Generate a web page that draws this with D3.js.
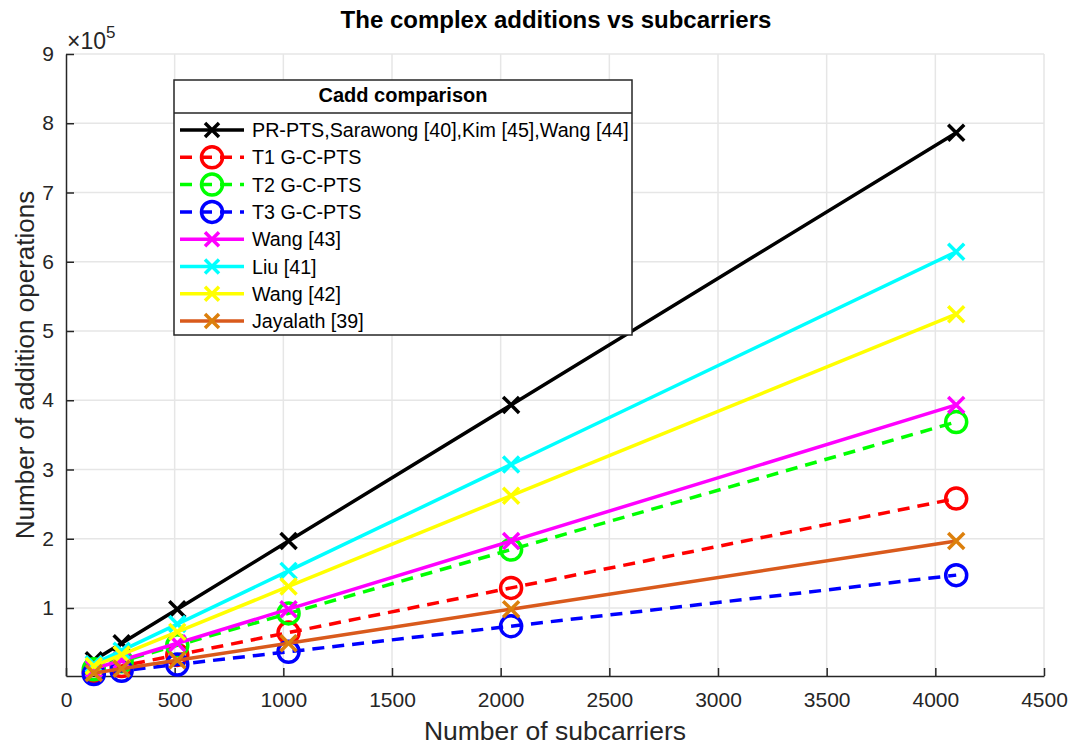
<!DOCTYPE html>
<html>
<head>
<meta charset="utf-8">
<script src="https://cdn.jsdelivr.net/npm/d3@7"></script>
<style>
  body { margin: 0; background: #fff; }
  svg { font-family: "Liberation Sans", Arial, sans-serif; }
</style>
</head>
<body>
<div id="chart"></div>
<script>
const subcarriers = [128, 256, 512, 1024, 2048, 4096];
const seriesNames = ['PR-PTS,Sarawong [40],Kim [45],Wang [44]', 'T1 G-C-PTS', 'T2 G-C-PTS', 'T3 G-C-PTS',
  'Wang [43]', 'Liu [41]', 'Wang [42]', 'Jayalath [39]'];
const prPts = [24576, 49152, 98304, 196608, 393216, 786432];
const t1 = [8064, 16128, 32256, 64512, 129024, 258048];
const t2 = [11520, 23040, 46080, 92160, 184320, 368640];
const t3 = [4608, 9216, 18432, 36864, 73728, 147456];
const wang43 = [12288, 24576, 49152, 98304, 196608, 393216];
const liu41 = [19200, 38400, 76800, 153600, 307200, 614400];
const wang42 = [16384, 32768, 65536, 131072, 262144, 524288];
const jayalath = [6144, 12288, 24576, 49152, 98304, 196608];
const xTicks = [0, 500, 1000, 1500, 2000, 2500, 3000, 3500, 4000, 4500];
const yTicks = [1, 2, 3, 4, 5, 6, 7, 8, 9];

const series = [
  { name: seriesNames[0], values: prPts, color: '#000000', marker: 'x', dash: null },
  { name: seriesNames[1], values: t1, color: '#ff0000', marker: 'o', dash: '12,8' },
  { name: seriesNames[2], values: t2, color: '#00ff00', marker: 'o', dash: '12,8' },
  { name: seriesNames[3], values: t3, color: '#0000ff', marker: 'o', dash: '12,8' },
  { name: seriesNames[4], values: wang43, color: '#ff00ff', marker: 'x', dash: null },
  { name: seriesNames[5], values: liu41, color: '#00ffff', marker: 'x', dash: null },
  { name: seriesNames[6], values: wang42, color: '#ffff00', marker: 'x', dash: null },
  { name: seriesNames[7], values: jayalath, color: '#d95a1c', markerColor: '#dc7f0c', marker: 'x', dash: null },
];

const W = 1070, H = 746;
const margin = { top: 54, right: 26, bottom: 70, left: 66 };

const svg = d3.select('#chart').append('svg')
  .attr('width', W)
  .attr('height', H);

const x = d3.scaleLinear().domain([0, 4500]).range([margin.left, W - margin.right]);
const y = d3.scaleLinear().domain([1800, 900000]).range([H - margin.bottom, margin.top]);

// grid
svg.append('g').selectAll('line')
  .data(xTicks.slice(1))
  .join('line')
  .attr('x1', d => x(d)).attr('x2', d => x(d))
  .attr('y1', y.range()[0]).attr('y2', y.range()[1])
  .attr('stroke', '#e6e6e6').attr('stroke-width', 1.5);
svg.append('g').selectAll('line')
  .data(yTicks)
  .join('line')
  .attr('x1', x.range()[0]).attr('x2', x.range()[1])
  .attr('y1', d => y(d * 1e5)).attr('y2', d => y(d * 1e5))
  .attr('stroke', '#e6e6e6').attr('stroke-width', 1.5);

// axes
const xAxis = svg.append('g')
  .attr('transform', `translate(0,${y.range()[0]})`)
  .call(d3.axisBottom(x).tickValues(xTicks).tickFormat(d3.format('d'))
    .tickSizeInner(-8).tickSizeOuter(0).tickPadding(16));
const yAxis = svg.append('g')
  .attr('transform', `translate(${x.range()[0]},0)`)
  .call(d3.axisLeft(y).tickValues(yTicks.map(d => d * 1e5)).tickFormat(d => d / 1e5)
    .tickSizeInner(-8).tickSizeOuter(0).tickPadding(12));
[xAxis, yAxis].forEach(g => {
  g.attr('font-size', null).attr('font-family', null);
  g.select('.domain').attr('stroke', '#262626').attr('stroke-width', 1.5);
  g.selectAll('.tick line').attr('stroke', '#262626').attr('stroke-width', 1.5);
  g.selectAll('.tick text').attr('fill', '#262626').style('font-size', '21px');
});

svg.append('text')
  .attr('x', 67).attr('y', 49)
  .attr('fill', '#262626').style('font-size', '23px')
  .html('×10<tspan dy="-11" font-size="17px">5</tspan>');

// lines
const line = d3.line().x((d, i) => x(subcarriers[i])).y(d => y(d));
const gSeries = svg.append('g');
series.forEach(s => {
  gSeries.append('path')
    .datum(s.values)
    .attr('d', line)
    .attr('fill', 'none')
    .attr('stroke', s.color)
    .attr('stroke-width', 3.5)
    .attr('stroke-dasharray', s.dash);
  drawMarkers(gSeries, s, s.values.map((v, i) => [x(subcarriers[i]), y(v)]), 8);
});

function drawMarkers(g, s, pts, r) {
  const c = s.markerColor || s.color;
  const m = g.append('g').selectAll('g').data(pts).join('g')
    .attr('transform', d => `translate(${d[0]},${d[1]})`);
  if (s.marker === 'o') {
    m.append('circle').attr('r', 10.5).attr('fill', 'none')
      .attr('stroke', c).attr('stroke-width', 3.5);
  } else {
    m.append('path').attr('d', `M${-r},${-r}L${r},${r}M${-r},${r}L${r},${-r}`)
      .attr('stroke', c).attr('stroke-width', 3.5).attr('fill', 'none');
  }
}

// titles
svg.append('text')
  .attr('x', 556).attr('y', 28)
  .attr('text-anchor', 'middle')
  .style('font-size', '24px').style('font-weight', 'bold')
  .text('The complex additions vs subcarriers');
svg.append('text')
  .attr('x', 555).attr('y', 740)
  .attr('text-anchor', 'middle')
  .attr('fill', '#262626')
  .style('font-size', '26.5px')
  .text('Number of subcarriers');
svg.append('text')
  .attr('transform', `translate(34,${(margin.top + H - margin.bottom) / 2}) rotate(-90)`)
  .attr('text-anchor', 'middle')
  .attr('fill', '#262626')
  .style('font-size', '26px')
  .text('Number of addition operations');

// legend
const lg = svg.append('g').attr('transform', 'translate(174,80)');
lg.append('rect')
  .attr('width', 458).attr('height', 255)
  .attr('fill', '#fff').attr('stroke', '#262626').attr('stroke-width', 1.5);
lg.append('line')
  .attr('x1', 0).attr('x2', 458).attr('y1', 33).attr('y2', 33)
  .attr('stroke', '#262626').attr('stroke-width', 1.5);
lg.append('text')
  .attr('x', 229).attr('y', 22)
  .attr('text-anchor', 'middle')
  .style('font-size', '20px').style('font-weight', 'bold')
  .text('Cadd comparison');
series.forEach((s, i) => {
  const row = lg.append('g').attr('transform', `translate(0,${50 + i * 27.3})`);
  row.append('line')
    .attr('x1', 6).attr('x2', 70).attr('y1', 0).attr('y2', 0)
    .attr('stroke', s.color).attr('stroke-width', 3.5)
    .attr('stroke-dasharray', s.dash);
  drawMarkers(row, s, [[38, 0]], 7);
  row.append('text')
    .attr('x', 78).attr('y', 7)
    .style('font-size', '19.7px')
    .text(s.name);
});
</script>
</body>
</html>
